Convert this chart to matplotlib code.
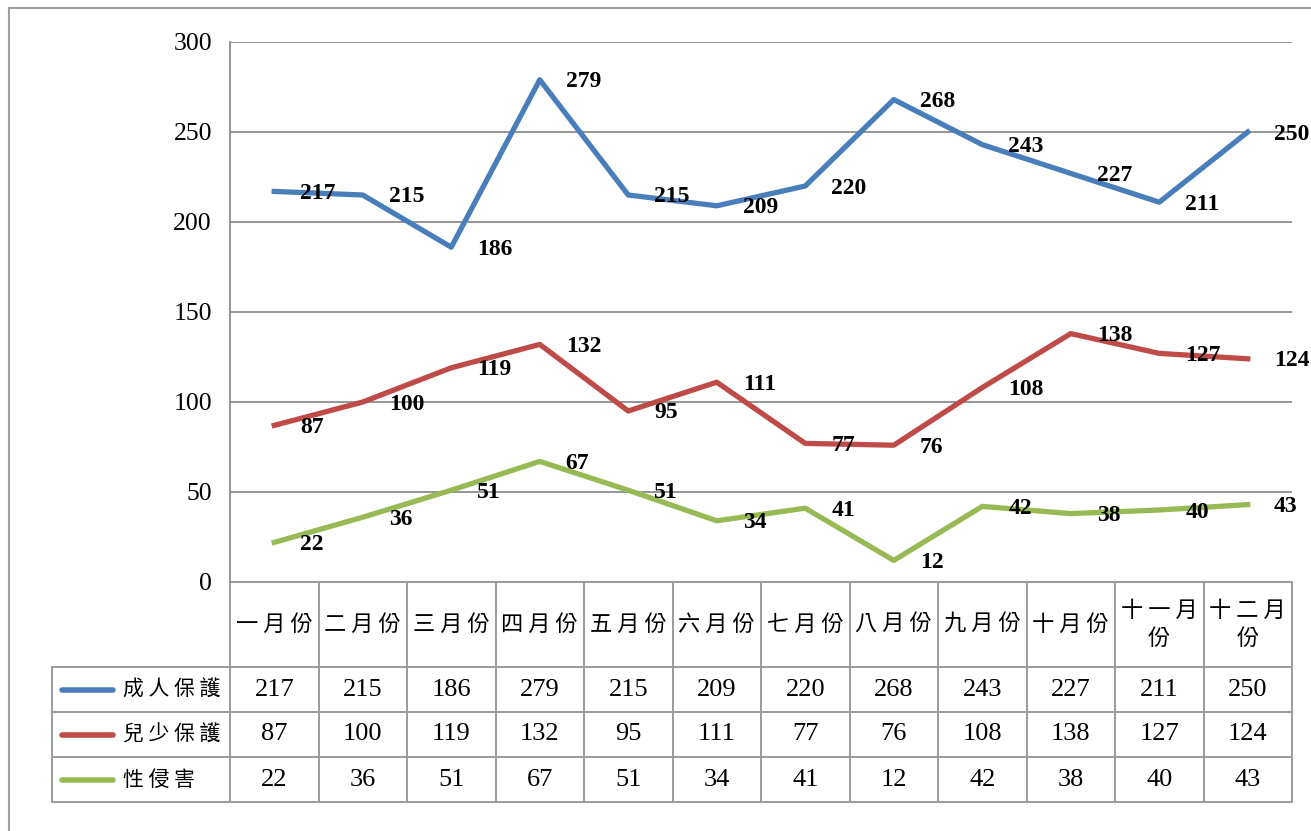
import matplotlib
matplotlib.use('Agg')
import matplotlib.pyplot as plt
from matplotlib.lines import Line2D
from matplotlib.transforms import blended_transform_factory
import numpy as np

# ---- data ----
months = ['一 月 份', '二 月 份', '三 月 份', '四 月 份', '五 月 份', '六 月 份',
          '七 月 份', '八 月 份', '九 月 份', '十 月 份', '十 一 月\n份', '十 二 月\n份']
series_names = ['成 人 保 護', '兒 少 保 護', '性 侵 害']
adult = [217, 215, 186, 279, 215, 209, 220, 268, 243, 227, 211, 250]
youth = [87, 100, 119, 132, 95, 111, 77, 76, 108, 138, 127, 124]
sexual = [22, 36, 51, 67, 51, 34, 41, 12, 42, 38, 40, 43]
yticks = [0, 50, 100, 150, 200, 250, 300]
colors = ['#4a7ebb', '#be4b48', '#98b954']

W, H = 1311, 831
fig = plt.figure(figsize=(W / 100, H / 100), dpi=100)
fig.patch.set_facecolor('white')

def fx(px):
    return px / W

def fy(py):
    return 1 - py / H

ax = fig.add_axes([fx(230), fy(582), (1292 - 230) / W, (582 - 42) / H])
x = np.arange(len(months))
serif = 'Liberation Serif'
cjk = ['Noto Sans CJK TC', 'DejaVu Sans']

all_series = [adult, youth, sexual]
for vals, c in zip(all_series, colors):
    ax.plot(x, vals, color=c, lw=3.8, zorder=3, clip_on=False)
    for xi, v in zip(x, vals):
        ax.annotate(str(v), (xi, v), xytext=(26, -2), textcoords='offset pixels',
                    ha='left', va='center', fontsize=17, fontweight='bold',
                    family=serif, annotation_clip=False, zorder=4)

ax.set_xlim(-0.5, len(months) - 0.5)
ax.set_ylim(0, 300)
ax.set_yticks(yticks)
ax.set_xticks([])
ax.yaxis.grid(True, color='#8c8c8c', lw=1.3)
ax.set_axisbelow(True)
ax.tick_params(axis='y', length=0, pad=13, labelsize=18.5)
for lbl in ax.get_yticklabels():
    lbl.set_family(serif)
for s in ['top', 'right', 'bottom']:
    ax.spines[s].set_visible(False)
ax.spines['left'].set_color('#8c8c8c')
ax.spines['left'].set_linewidth(1.3)

# ---- data table ----
tb = blended_transform_factory(ax.transData, fig.transFigure)
lc = '#9a9a9a'
lw = 1.4
row_edges = [582, 667, 712, 757, 802]
x_left = -0.5
x_right = len(months) - 0.5

def hline_px(x0px, x1px, py):
    fig.add_artist(Line2D([fx(x0px), fx(x1px)], [fy(py), fy(py)], color=lc, lw=lw,
                          transform=fig.transFigure))

# header top line (data columns only)
ax.plot([x_left, x_right], [fy(582), fy(582)], color=lc, lw=lw, transform=tb, clip_on=False)
for py in row_edges[1:]:
    hline_px(52, 1292, py)
# vertical lines at column boundaries
for i in range(len(months) + 1):
    ax.plot([i - 0.5, i - 0.5], [fy(582), fy(802)], color=lc, lw=lw, transform=tb, clip_on=False)
# legend column left border
fig.add_artist(Line2D([fx(52), fx(52)], [fy(667), fy(802)], color=lc, lw=lw,
                      transform=fig.transFigure))

# header texts
for i, m in enumerate(months):
    ax.text(i, fy(624.5), m, transform=tb, ha='center', va='center', fontsize=16,
            family=cjk, linespacing=1.25)

# rows
row_centers = [689.5, 734.5, 779.5]
for name, vals, c, ry in zip(series_names, all_series, colors, row_centers):
    fig.add_artist(Line2D([fx(62), fx(113)], [fy(ry), fy(ry)], color=c, lw=4,
                          solid_capstyle='round', transform=fig.transFigure))
    fig.text(fx(123), fy(ry), name, ha='left', va='center', fontsize=15, family=cjk)
    for i, v in enumerate(vals):
        ax.text(i, fy(ry), str(v), transform=tb, ha='center', va='center',
                fontsize=19, family=serif)

# outer frame
fig.add_artist(Line2D([fx(9), fx(9)], [fy(8), 0], color='#a0a0a0', lw=1.5,
                      transform=fig.transFigure))
fig.add_artist(Line2D([fx(9), 1], [fy(8), fy(8)], color='#a0a0a0', lw=1.5,
                      transform=fig.transFigure))

fig.savefig('out.png', dpi=100, facecolor='white')
